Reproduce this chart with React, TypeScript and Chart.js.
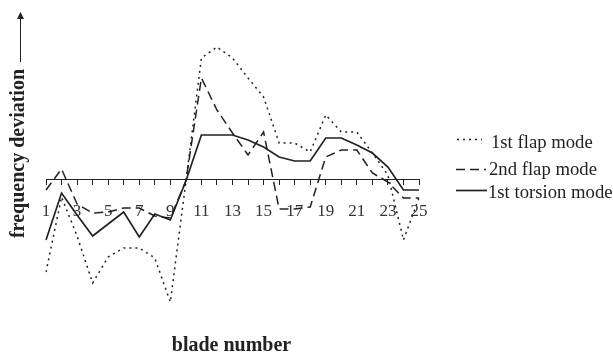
import React, { useEffect, useRef } from "react";
import { Chart, registerables } from "chart.js";

Chart.register(...registerables);

// ---- data ----
const bladeNumbers = [
  "1", "2", "3", "4", "5", "6", "7", "8", "9", "10", "11", "12", "13",
  "14", "15", "16", "17", "18", "19", "20", "21", "22", "23", "24", "25",
];
const shownTickLabels = ["1", "3", "5", "7", "9", "11", "13", "15", "17", "19", "21", "23", "25"];

const firstFlapMode = [
  -9.3, -1.8, -5.7, -10.4, -7.8, -6.9, -6.9, -7.9, -12.3, -0.3, 12.1, 13.2, 12.1,
  10.1, 8.2, 3.6, 3.6, 2.7, 6.4, 4.7, 4.7, 2.6, 0.4, -6.1, -1.9,
];
const secondFlapMode = [
  -1.1, 1.0, -2.5, -3.4, -3.3, -2.9, -2.9, -3.7, -3.9, -0.2, 10.1, 6.9, 4.6,
  2.4, 4.7, -3.0, -3.0, -2.8, 2.2, 2.9, 2.9, 0.6, -0.3, -1.9, -1.9,
];
const firstTorsionMode = [
  -6.1, -1.4, -3.6, -5.7, -4.5, -3.3, -5.8, -3.5, -4.1, -0.2, 4.4, 4.4, 4.4,
  3.9, 3.2, 2.2, 1.8, 1.8, 4.1, 4.1, 3.4, 2.6, 1.2, -1.1, -1.1,
];

const seriesNames = ["1st flap mode", "2nd flap mode", "1st torsion mode"];
const xTitle = "blade number";
const yTitle = "frequency deviation";

const INK = "#222";
const SERIF = "'Liberation Serif', 'Times New Roman', serif";

const decorPlugin = {
  id: "decor",
  afterDraw(chart: any) {
    const ctx = chart.ctx as CanvasRenderingContext2D;
    ctx.save();
    // x title
    ctx.fillStyle = INK;
    ctx.font = `bold 20px ${SERIF}`;
    ctx.textAlign = "center";
    ctx.textBaseline = "middle";
    ctx.fillText(xTitle, 231.5, 346);

    // y title rotated
    ctx.save();
    ctx.translate(18.5, 153.5);
    ctx.rotate(-Math.PI / 2);
    ctx.textAlign = "center";
    ctx.textBaseline = "middle";
    ctx.fillText(yTitle, 0, 0);
    ctx.restore();

    // arrow
    ctx.strokeStyle = INK;
    ctx.lineWidth = 1;
    ctx.beginPath();
    ctx.moveTo(20.5, 62);
    ctx.lineTo(20.5, 16);
    ctx.stroke();
    ctx.beginPath();
    ctx.moveTo(20.5, 12);
    ctx.lineTo(17, 19);
    ctx.lineTo(24, 19);
    ctx.closePath();
    ctx.fillStyle = INK;
    ctx.fill();

    // legend
    const rows = [
      { lineY: 139.5, textY: 143, x1: 457, x2: 482, tx: 491 },
      { lineY: 169.5, textY: 170, x1: 456, x2: 486, tx: 489 },
      { lineY: 190.5, textY: 193, x1: 456, x2: 487, tx: 488 },
    ];
    chart.data.datasets.forEach((ds: any, i: number) => {
      const r = rows[i];
      ctx.save();
      ctx.strokeStyle = ds.borderColor;
      ctx.lineWidth = ds.borderWidth;
      ctx.setLineDash(ds.borderDash || []);
      ctx.beginPath();
      ctx.moveTo(r.x1, r.lineY);
      ctx.lineTo(r.x2, r.lineY);
      ctx.stroke();
      ctx.restore();
      ctx.fillStyle = INK;
      ctx.font = `18.7px ${SERIF}`;
      ctx.textAlign = "left";
      ctx.textBaseline = "middle";
      ctx.fillText(ds.label, r.tx, r.textY);
    });
    ctx.restore();
  },
};

export default function App() {
  const ref = useRef<HTMLCanvasElement | null>(null);

  useEffect(() => {
    if (!ref.current) return;
    const chart = new Chart(ref.current, {
      type: "line",
      data: {
        labels: bladeNumbers,
        datasets: [
          {
            label: seriesNames[0],
            data: firstFlapMode,
            borderColor: INK,
            borderWidth: 1.5,
            borderDash: [2, 4],
            pointRadius: 0,
            tension: 0,
            fill: false,
          },
          {
            label: seriesNames[1],
            data: secondFlapMode,
            borderColor: INK,
            borderWidth: 1.5,
            borderDash: [9, 5],
            pointRadius: 0,
            tension: 0,
            fill: false,
          },
          {
            label: seriesNames[2],
            data: firstTorsionMode,
            borderColor: INK,
            borderWidth: 1.7,
            borderDash: [],
            pointRadius: 0,
            tension: 0,
            fill: false,
          },
        ],
      },
      options: {
        animation: false,
        responsive: true,
        maintainAspectRatio: false,
        layout: { padding: { left: 46, right: 194, top: 39, bottom: 35 } },
        plugins: {
          legend: { display: false },
          tooltip: { enabled: false },
        },
        scales: {
          y: {
            display: false,
            min: -14,
            max: 14,
          },
          x: {
            position: { y: 0 } as any,
            offset: false,
            border: { display: true, color: INK, width: 1 },
            grid: {
              display: true,
              drawOnChartArea: false,
              drawTicks: true,
              tickLength: 5,
              color: INK,
            },
            ticks: {
              autoSkip: false,
              maxRotation: 0,
              padding: 17,
              color: "#333",
              font: { family: SERIF, size: 17 },
              callback: (_v: any, i: number) =>
                shownTickLabels.includes(bladeNumbers[i]) ? bladeNumbers[i] : "",
            },
          },
        },
      },
      plugins: [decorPlugin],
    });
    return () => chart.destroy();
  }, []);

  return (
    <div style={{ position: "fixed", left: 0, top: 0, width: 613, height: 354, background: "#fff" }}>
      <canvas ref={ref} />
    </div>
  );
}
